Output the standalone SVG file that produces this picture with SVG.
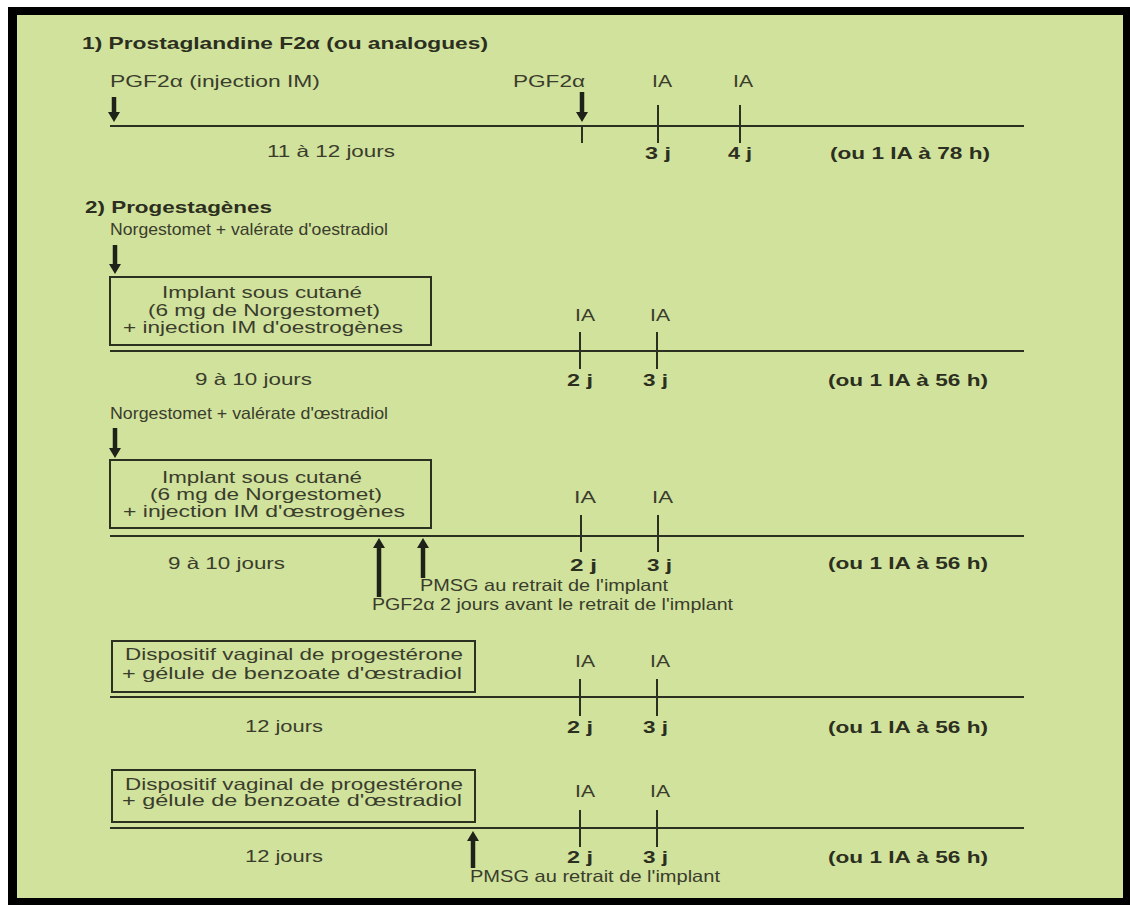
<svg xmlns="http://www.w3.org/2000/svg" width="1130" height="905" viewBox="0 0 1130 905">
<style>
text{font-family:"Liberation Sans",Arial,sans-serif;font-size:16.5px;fill:#3a3d2c;}
.b{font-weight:bold;fill:#2c2f20;}
.ln{stroke:#2c3020;stroke-width:2;fill:none;}
.tk{stroke:#2c3020;stroke-width:2;}
.ar{stroke:#1f2218;stroke-width:4.5;}
.box{fill:none;stroke:#2c3020;stroke-width:2;}
</style>
<defs>
<marker id="ah" markerUnits="userSpaceOnUse" markerWidth="10" markerHeight="12" viewBox="0 0 10 12" refX="0" refY="6" orient="auto">
<path d="M0,0 L10,6 L0,12 z" fill="#1f2218"/>
</marker>
</defs>
<rect width="1130" height="905" fill="#ffffff"/>
<rect x="8" y="7" width="1122" height="898" fill="#000000"/>
<rect x="17" y="15" width="1106" height="883" fill="#d1e29d"/>

<g id="connectors">
<line class="ln" x1="110" y1="126" x2="1024" y2="126"/>
<line class="ln" x1="110" y1="351" x2="1024" y2="351"/>
<line class="ln" x1="110" y1="536" x2="1024" y2="536"/>
<line class="ln" x1="110" y1="697" x2="1024" y2="697"/>
<line class="ln" x1="110" y1="828" x2="1024" y2="828"/>
<line class="tk" x1="582" y1="125" x2="582" y2="143"/>
<line class="tk" x1="658" y1="105" x2="658" y2="143"/>
<line class="tk" x1="740" y1="105" x2="740" y2="143"/>
<line class="tk" x1="580" y1="332" x2="580" y2="369"/>
<line class="tk" x1="657" y1="332" x2="657" y2="369"/>
<line class="tk" x1="581" y1="515" x2="581" y2="552"/>
<line class="tk" x1="658" y1="515" x2="658" y2="552"/>
<line class="tk" x1="580" y1="679" x2="580" y2="716"/>
<line class="tk" x1="657" y1="679" x2="657" y2="716"/>
<line class="tk" x1="580" y1="810" x2="580" y2="847"/>
<line class="tk" x1="657" y1="810" x2="657" y2="847"/>
<line class="ar" x1="114" y1="97" x2="114" y2="112" marker-end="url(#ah)"/>
<line class="ar" x1="582" y1="92" x2="582" y2="112" marker-end="url(#ah)"/>
<line class="ar" x1="115" y1="245" x2="115" y2="264" marker-end="url(#ah)"/>
<line class="ar" x1="115" y1="428" x2="115" y2="448" marker-end="url(#ah)"/>
<line class="ar" x1="379" y1="597" x2="379" y2="548" marker-end="url(#ah)"/>
<line class="ar" x1="423" y1="578" x2="423" y2="548" marker-end="url(#ah)"/>
<line class="ar" x1="473" y1="868" x2="473" y2="841" marker-end="url(#ah)"/>
</g>

<g id="section1">
<text class="b" x="82" y="49" textLength="406" lengthAdjust="spacingAndGlyphs">1) Prostaglandine F2α (ou analogues)</text>
<text x="110" y="87" textLength="210" lengthAdjust="spacingAndGlyphs">PGF2α (injection IM)</text>
<text x="513" y="87" textLength="72" lengthAdjust="spacingAndGlyphs">PGF2α</text>
<text x="652" y="87" textLength="20" lengthAdjust="spacingAndGlyphs">IA</text>
<text x="733" y="87" textLength="20" lengthAdjust="spacingAndGlyphs">IA</text>
<text x="267" y="157" textLength="128" lengthAdjust="spacingAndGlyphs">11 à 12 jours</text>
<text class="b" x="645" y="159" textLength="26" lengthAdjust="spacingAndGlyphs">3 j</text>
<text class="b" x="728" y="159" textLength="24" lengthAdjust="spacingAndGlyphs">4 j</text>
<text class="b" x="830" y="159" textLength="160" lengthAdjust="spacingAndGlyphs">(ou 1 IA à 78 h)</text>
</g>

<g id="section2-title">
<text class="b" x="85" y="213" textLength="187" lengthAdjust="spacingAndGlyphs">2) Progestagènes</text>
</g>

<g id="block2">
<text x="110" y="235" textLength="278" lengthAdjust="spacingAndGlyphs">Norgestomet + valérate d'oestradiol</text>
<rect class="box" x="110" y="277" width="321" height="68"/>
<text x="162" y="298" textLength="200" lengthAdjust="spacingAndGlyphs">Implant sous cutané</text>
<text x="148" y="316" textLength="232" lengthAdjust="spacingAndGlyphs">(6 mg de Norgestomet)</text>
<text x="123" y="333" textLength="280" lengthAdjust="spacingAndGlyphs">+ injection IM d'oestrogènes</text>
<text x="195" y="385" textLength="117" lengthAdjust="spacingAndGlyphs">9 à 10 jours</text>
<text x="575" y="321" textLength="20" lengthAdjust="spacingAndGlyphs">IA</text>
<text x="650" y="321" textLength="20" lengthAdjust="spacingAndGlyphs">IA</text>
<text class="b" x="567" y="386" textLength="26" lengthAdjust="spacingAndGlyphs">2 j</text>
<text class="b" x="643" y="386" textLength="25" lengthAdjust="spacingAndGlyphs">3 j</text>
<text class="b" x="828" y="386" textLength="160" lengthAdjust="spacingAndGlyphs">(ou 1 IA à 56 h)</text>
</g>

<g id="block3">
<text x="110" y="419" textLength="278" lengthAdjust="spacingAndGlyphs">Norgestomet + valérate d'œstradiol</text>
<rect class="box" x="110" y="460" width="321" height="68"/>
<text x="162" y="483" textLength="200" lengthAdjust="spacingAndGlyphs">Implant sous cutané</text>
<text x="150" y="500" textLength="232" lengthAdjust="spacingAndGlyphs">(6 mg de Norgestomet)</text>
<text x="123" y="517" textLength="282" lengthAdjust="spacingAndGlyphs">+ injection IM d'œstrogènes</text>
<text x="168" y="569" textLength="117" lengthAdjust="spacingAndGlyphs">9 à 10 jours</text>
<text x="574" y="503" textLength="22" lengthAdjust="spacingAndGlyphs">IA</text>
<text x="652" y="503" textLength="21" lengthAdjust="spacingAndGlyphs">IA</text>
<text class="b" x="570" y="571" textLength="27" lengthAdjust="spacingAndGlyphs">2 j</text>
<text class="b" x="647" y="571" textLength="25" lengthAdjust="spacingAndGlyphs">3 j</text>
<text class="b" x="828" y="569" textLength="160" lengthAdjust="spacingAndGlyphs">(ou 1 IA à 56 h)</text>
<text x="420" y="591" textLength="248" lengthAdjust="spacingAndGlyphs">PMSG au retrait de l'implant</text>
<text x="372" y="610" textLength="361" lengthAdjust="spacingAndGlyphs">PGF2α 2 jours avant le retrait de l'implant</text>
</g>

<g id="block4">
<rect class="box" x="112" y="641" width="363" height="51"/>
<text x="125" y="660" textLength="338" lengthAdjust="spacingAndGlyphs">Dispositif vaginal de progestérone</text>
<text x="122" y="679" textLength="340" lengthAdjust="spacingAndGlyphs">+ gélule de benzoate d'œstradiol</text>
<text x="245" y="732" textLength="78" lengthAdjust="spacingAndGlyphs">12 jours</text>
<text x="575" y="667" textLength="20" lengthAdjust="spacingAndGlyphs">IA</text>
<text x="650" y="667" textLength="20" lengthAdjust="spacingAndGlyphs">IA</text>
<text class="b" x="567" y="733" textLength="26" lengthAdjust="spacingAndGlyphs">2 j</text>
<text class="b" x="643" y="733" textLength="25" lengthAdjust="spacingAndGlyphs">3 j</text>
<text class="b" x="828" y="733" textLength="160" lengthAdjust="spacingAndGlyphs">(ou 1 IA à 56 h)</text>
</g>

<g id="block5">
<rect class="box" x="112" y="770" width="363" height="52"/>
<text x="125" y="790" textLength="338" lengthAdjust="spacingAndGlyphs">Dispositif vaginal de progestérone</text>
<text x="122" y="806" textLength="340" lengthAdjust="spacingAndGlyphs">+ gélule de benzoate d'œstradiol</text>
<text x="245" y="862" textLength="78" lengthAdjust="spacingAndGlyphs">12 jours</text>
<text x="575" y="797" textLength="20" lengthAdjust="spacingAndGlyphs">IA</text>
<text x="650" y="797" textLength="20" lengthAdjust="spacingAndGlyphs">IA</text>
<text class="b" x="567" y="863" textLength="26" lengthAdjust="spacingAndGlyphs">2 j</text>
<text class="b" x="643" y="863" textLength="25" lengthAdjust="spacingAndGlyphs">3 j</text>
<text class="b" x="828" y="863" textLength="160" lengthAdjust="spacingAndGlyphs">(ou 1 IA à 56 h)</text>
<text x="470" y="882" textLength="250" lengthAdjust="spacingAndGlyphs">PMSG au retrait de l'implant</text>
</g>
</svg>
